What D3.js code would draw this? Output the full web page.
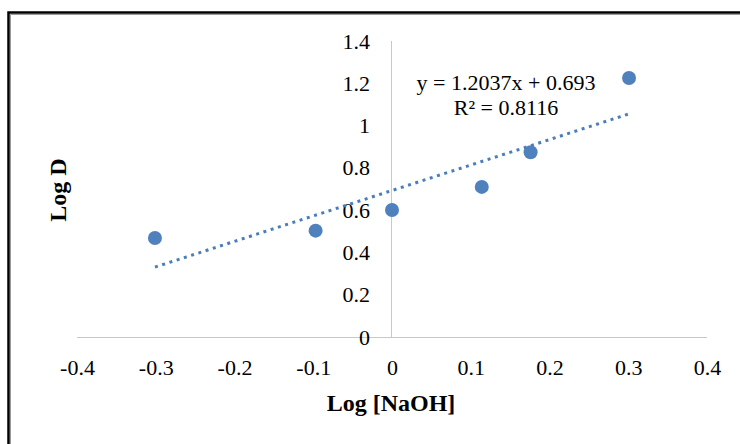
<!DOCTYPE html>
<meta charset="utf-8">
<style>
body { margin: 0; background: #fff; }
svg { display: block; }
.axis text { font: 22px "Liberation Serif", "Times New Roman", serif; fill: #000; }
.axis path { stroke: #c8c8c8; }
.title { font: bold 24px "Liberation Serif", "Times New Roman", serif; text-anchor: middle; }
.eq { font: 22px "Liberation Serif", "Times New Roman", serif; text-anchor: middle; }
</style>
<svg width="740" height="444"></svg>
<script src="https://d3js.org/d3.v7.min.js"></script>
<script>

// log [NaOH] vs log D
var logNaOH = [-0.301, -0.097, 0, 0.114, 0.176, 0.301],
    logD = [0.468, 0.503, 0.601, 0.71, 0.874, 1.225];

var xTicks = [-0.4, -0.3, -0.2, -0.1, 0, 0.1, 0.2, 0.3, 0.4],
    yTicks = [0, 0.2, 0.4, 0.6, 0.8, 1, 1.2, 1.4];

var trendSlope = 1.2037,
    trendIntercept = 0.693,
    rSquared = 0.8116;

var svg = d3.select("svg");

// frame (only top and left edges show in the picture)
svg.append("path")
    .attr("d", "M8.5,444V12.5H740")
    .attr("fill", "none")
    .attr("stroke", "#000")
    .attr("stroke-width", 2.5);
svg.append("path")
    .attr("d", "M10.5,444V14.5H740")
    .attr("fill", "none")
    .attr("stroke", "#999")
    .attr("stroke-width", 1);

var x = d3.scaleLinear().domain([-0.4, 0.4]).range([77, 707]),
    y = d3.scaleLinear().domain([0, 1.4]).range([337, 41]);

// plain hyphen for negatives, like the original
var fmt = function(d) { return String(+d.toFixed(1)); };

svg.append("g")
    .attr("class", "axis")
    .attr("transform", "translate(0," + y(0) + ")")
    .call(d3.axisBottom(x).tickValues(xTicks).tickSize(0).tickPadding(22).tickFormat(fmt))
  .call(function(g) { g.select(".domain").attr("d", "M" + x(-0.4) + ",0.5H" + x(0.4)); });

svg.append("g")
    .attr("class", "axis")
    .attr("transform", "translate(" + x(0) + ",0)")
    .call(d3.axisLeft(y).tickValues(yTicks).tickSize(0).tickPadding(22).tickFormat(fmt))
  .call(function(g) { g.select(".domain").attr("d", "M-0.5," + y(1.4) + "V" + y(0)); });

// trendline over the data range
var xr = d3.extent(logNaOH);
svg.append("line")
    .attr("x1", x(xr[0]))
    .attr("y1", y(trendSlope * xr[0] + trendIntercept))
    .attr("x2", x(xr[1]))
    .attr("y2", y(trendSlope * xr[1] + trendIntercept))
    .attr("stroke", "#4a7ebb")
    .attr("stroke-width", 3)
    .attr("stroke-dasharray", "3,4.6");

svg.append("g")
  .selectAll("circle")
    .data(logNaOH)
  .enter().append("circle")
    .attr("cx", function(d) { return x(d); })
    .attr("cy", function(d, i) { return y(logD[i]); })
    .attr("r", 7)
    .attr("fill", "#4f81bd");

svg.append("text")
    .attr("class", "eq")
    .attr("x", 506)
    .attr("y", 90)
    .text("y = " + trendSlope + "x + " + trendIntercept);

svg.append("text")
    .attr("class", "eq")
    .attr("x", 506)
    .attr("y", 115)
    .text("R² = " + rSquared);

svg.append("text")
    .attr("class", "title")
    .attr("x", 391)
    .attr("y", 411)
    .text("Log [NaOH]");

svg.append("text")
    .attr("class", "title")
    .attr("transform", "translate(66,190) rotate(-90)")
    .text("Log D");

</script>
